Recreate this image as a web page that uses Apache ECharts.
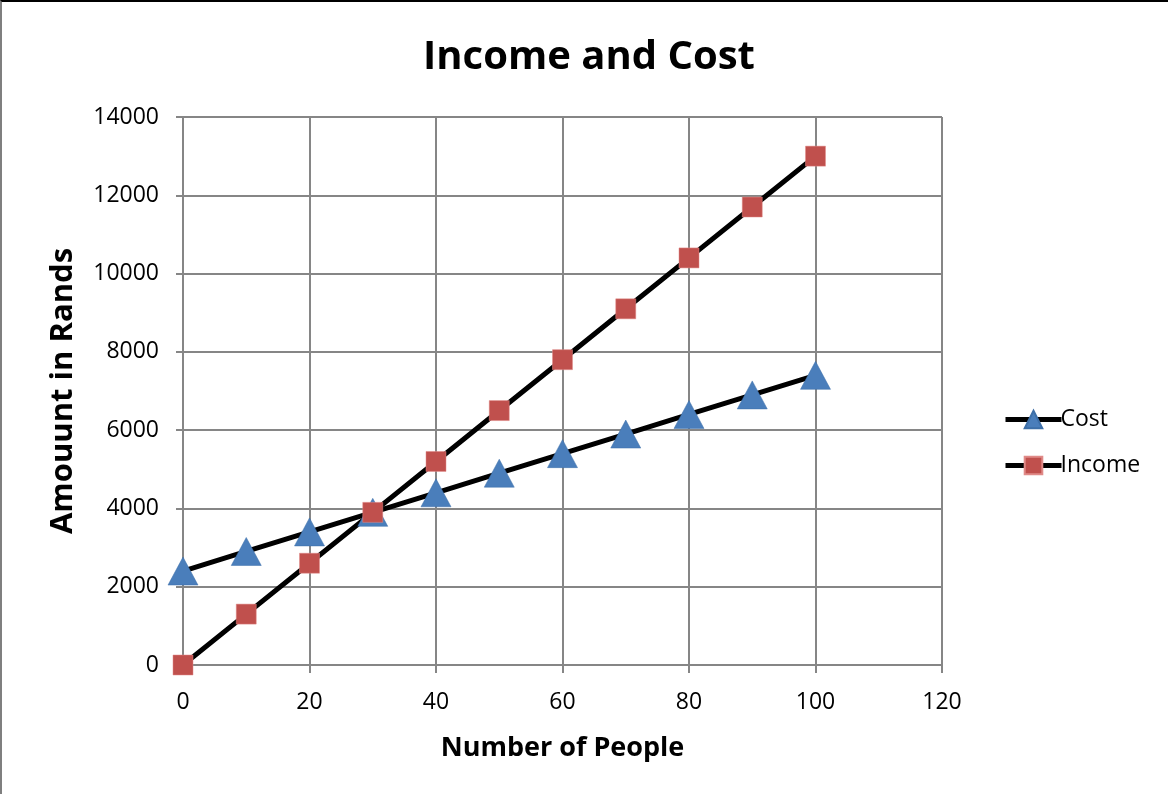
<!DOCTYPE html>
<html>
<head>
<meta charset="utf-8">
<script src="https://cdn.jsdelivr.net/npm/echarts@6/dist/echarts.min.js"></script>
<style>
    html, body { margin: 0; padding: 0; background: #fff; }
    #chart1 { width: 1168px; height: 794px; box-sizing: border-box;
        border-top: 2px solid #000; border-left: 2px solid #7f7f7f; }
</style>
</head>
<body>
<div id="chart1"></div>
<script>
var people = [0, 10, 20, 30, 40, 50, 60, 70, 80, 90, 100];
var cost = [2400, 2900, 3400, 3900, 4400, 4900, 5400, 5900, 6400, 6900, 7400];
var income = [0, 1300, 2600, 3900, 5200, 6500, 7800, 9100, 10400, 11700, 13000];

var costData = people.map(function (p, i) {
    return [p, cost[i]];
});
var incomeData = people.map(function (p, i) {
    return [p, income[i]];
});

var font = 'Open Sans, Liberation Sans, sans-serif';
var myChart = echarts.init(document.getElementById('chart1'));
// 指定图表的配置项和数据
var option = {
    animation: false,
    textStyle: {fontFamily: font},
    title: {
        text: 'Income and Cost',
        left: 582,
        top: 31,
        textAlign: 'center',
        textStyle: {fontSize: 40, fontWeight: 'bold', color: '#000', fontFamily: font}
    },
    legend: {
        orient: 'vertical',
        left: 996,
        top: 401,
        itemWidth: 56,
        itemHeight: 22,
        itemGap: 23,
        lineStyle: {width: 5, color: '#000'},
        textStyle: {fontSize: 23, color: '#000', padding: [0, 0, 0, -6]},
        data: ['Cost', 'Income']
    },
    grid: {left: 181, right: 226, top: 115, bottom: 129},
    xAxis: {
        type: 'value',
        min: 0,
        max: 120,
        interval: 20,
        name: 'Number of People',
        nameLocation: 'middle',
        nameGap: 70,
        nameTextStyle: {fontSize: 27, fontWeight: 'bold', color: '#000'},
        axisLine: {show: true, lineStyle: {color: '#868686', width: 2}},
        axisTick: {show: true, length: 8, lineStyle: {color: '#868686', width: 2}},
        axisLabel: {fontSize: 23, color: '#000', margin: 26},
        splitLine: {show: true, lineStyle: {color: '#868686', width: 2}}
    },
    yAxis: {
        type: 'value',
        min: 0,
        max: 14000,
        interval: 2000,
        name: 'Amouunt in Rands',
        nameLocation: 'middle',
        nameGap: 104,
        nameTextStyle: {fontSize: 31, fontWeight: 'bold', color: '#000'},
        axisLine: {show: true, lineStyle: {color: '#868686', width: 2}},
        axisTick: {show: true, length: 7, lineStyle: {color: '#868686', width: 2}},
        axisLabel: {
            fontSize: 23, color: '#000', margin: 24,
            formatter: function (v) { return String(v); }
        },
        splitLine: {show: true, lineStyle: {color: '#868686', width: 2}}
    },
    series: [
        {
            name: 'Cost',
            type: 'line',
            data: costData,
            symbol: 'triangle',
            symbolSize: [30, 28],
            lineStyle: {color: '#000', width: 5},
            itemStyle: {color: '#4a7ebb', borderColor: '#3d6fa8', borderWidth: 0.5, opacity: 1}
        },
        {
            name: 'Income',
            type: 'line',
            data: incomeData,
            symbol: 'rect',
            symbolSize: 20,
            lineStyle: {color: '#000', width: 5},
            itemStyle: {color: '#c0504d', borderColor: '#e08a88', borderWidth: 0.5, opacity: 1}
        }
    ]
};

// 使用刚指定的配置项和数据显示图表。
myChart.setOption(option);
</script>
</body>
</html>
